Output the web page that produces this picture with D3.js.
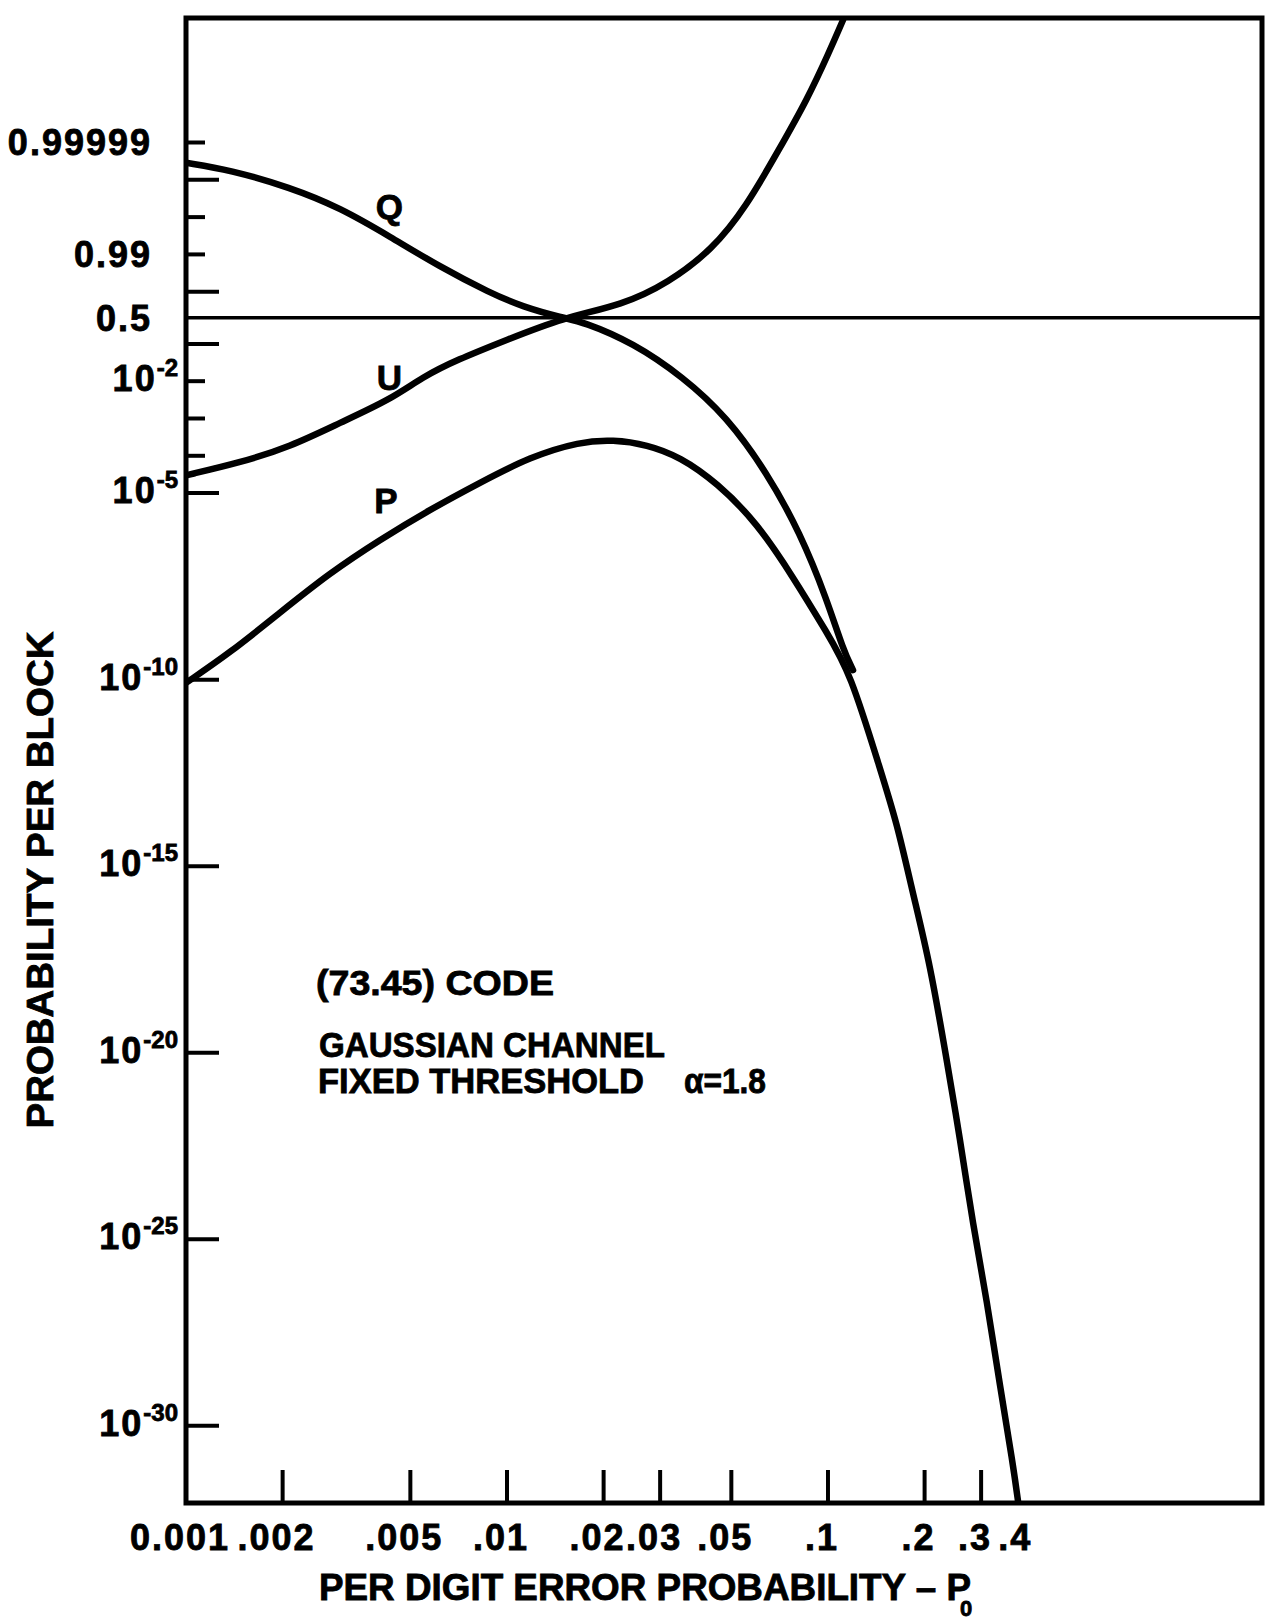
<!DOCTYPE html>
<html>
<head>
<meta charset="utf-8">
<script src="https://cdn.jsdelivr.net/npm/d3@7"></script>
<style>
    body { margin: 0; background: #fff; }
    text { font-family: "Liberation Sans", Arial, sans-serif; font-weight: bold; fill: #000; stroke: #000; stroke-width: 0.8px; }
</style>
</head>
<body>
<div id="chart"></div>
<script>
// (73.45) code, gaussian channel, fixed threshold - block probabilities vs per digit error

// x axis: per digit error probability (log)
const xDomain = [0.001, 2.25];
const xTickValues = [0.001, 0.002, 0.005, 0.01, 0.02, 0.03, 0.05, 0.1, 0.2, 0.3, 0.4];
const xTickLabels = ["0.001", ".002", ".005", ".01", ".02", ".03", ".05", ".1", ".2", ".3", ".4"];

// y axis: probability per block (log below 0.5, log of 1-p above 0.5)
const yDomain = [8.5e-33, 1 - 4.6e-9];
const yTickValues = [0.99999, 0.9999, 0.999, 0.99, 0.9, 0.1, 1e-2, 1e-3, 1e-4, 1e-5, 1e-10, 1e-15, 1e-20, 1e-25, 1e-30];
const yLabelValues = [0.99999, 0.99, 0.5, 1e-2, 1e-5, 1e-10, 1e-15, 1e-20, 1e-25, 1e-30];
const yLabelBase = ["0.99999", "0.99", "0.5", "10", "10", "10", "10", "10", "10", "10"];
const yLabelExp = ["", "", "", "-2", "-5", "-10", "-15", "-20", "-25", "-30"];

// Q curve
const p0Q = [0.001, 0.00137, 0.00211, 0.00302, 0.00433, 0.00618, 0.00885, 0.0112, 0.0149, 0.01726,
    0.0247, 0.0353, 0.0484, 0.0646, 0.0819, 0.0993, 0.1115, 0.1197];
const probQ = [0.999965, 0.999946, 0.99984, 0.99944, 0.99663, 0.9785, 0.893, 0.746, 0.5, 0.391,
    0.107, 0.0131, 1.11e-3, 3.5e-5, 8.6e-7, 1.4e-8, 6.3e-10, 1.8e-10];

// U curve
const p0U = [0.001, 0.00147, 0.00211, 0.00302, 0.00433, 0.00547, 0.00698, 0.01, 0.0149, 0.0230,
    0.0318, 0.0436, 0.0556, 0.0703, 0.0861, 0.1007, 0.1115];
const probU = [3.0e-5, 6.5e-5, 1.74e-4, 7.7e-4, 3.2e-3, 0.0131, 0.0374, 0.129, 0.5, 0.776,
    0.9424, 0.99248, 0.99947, 0.9999843, 0.99999929, 0.999999961, 0.9999999949];

// P curve
const p0P = [0.001, 0.00137, 0.00196, 0.00281, 0.00402, 0.00575, 0.00824, 0.0118, 0.01687, 0.0214,
    0.0273, 0.0346, 0.0451, 0.0601, 0.0778, 0.0993, 0.1172, 0.1452, 0.164, 0.184,
    0.208, 0.235, 0.2576, 0.283, 0.3126, 0.3436, 0.3767, 0.392];
const probP = [8.2e-11, 5.2e-10, 6.2e-9, 7.3e-8, 5.6e-7, 3.6e-6, 1.9e-5, 9.4e-5, 2.4e-4, 2.7e-4,
    2.0e-4, 9.4e-5, 1.9e-5, 1.6e-6, 5.7e-8, 1.8e-9, 1.6e-10, 4.1e-13, 1.45e-14, 1.8e-16,
    2.4e-18, 5.6e-21, 5.2e-23, 2.4e-25, 2.35e-27, 1.1e-29, 1.0e-31, 8e-33];

const curveNames = ["Q", "U", "P"];
const curveLabelP0 = [0.0043, 0.0043, 0.0042];
const curveLabelProb = [0.9995, 0.0131, 6.6e-6];

const width = 1274, height = 1624;
const frame = { left: 186, right: 1262, top: 18, bottom: 1503 };

// symmetric log scale around 0.5
function probToT(p) {
    return p <= 0.5 ? Math.log10(p / 0.5) : Math.log10(0.5 / (1 - p));
}

const x = d3.scaleLog().domain(xDomain).range([frame.left, frame.right]);
const yT = d3.scaleLinear().domain(yDomain.map(probToT)).range([frame.bottom, frame.top]);
const y = p => yT(probToT(p));

const svg = d3.select("#chart")
    .append("svg")
    .attr("width", width)
    .attr("height", height);

svg.append("clipPath").attr("id", "plot-clip")
    .append("rect")
    .attr("x", frame.left).attr("y", frame.top)
    .attr("width", frame.right - frame.left)
    .attr("height", frame.bottom - frame.top);

// frame
svg.append("rect")
    .attr("x", frame.left).attr("y", frame.top)
    .attr("width", frame.right - frame.left)
    .attr("height", frame.bottom - frame.top)
    .attr("fill", "none")
    .attr("stroke", "#000")
    .attr("stroke-width", 5);

// 0.5 reference line
svg.append("line")
    .attr("x1", frame.left).attr("x2", frame.right)
    .attr("y1", y(0.5)).attr("y2", y(0.5))
    .attr("stroke", "#000")
    .attr("stroke-width", 3.5);

// left ticks
const isLong = v => v <= 1e-5 || [0.9999, 0.9, 0.1].includes(v);
svg.selectAll(".ytick")
    .data(yTickValues)
    .enter()
    .append("line")
    .attr("class", "ytick")
    .attr("x1", frame.left)
    .attr("x2", d => frame.left + (isLong(d) ? 33 : 19))
    .attr("y1", d => y(d))
    .attr("y2", d => y(d))
    .attr("stroke", "#000")
    .attr("stroke-width", 4);

// left labels
const yLabels = svg.selectAll(".ylabel")
    .data(yLabelValues)
    .enter()
    .append("text")
    .attr("class", "ylabel")
    .attr("x", (d, i) => yLabelExp[i] ? frame.left - 8 : frame.left - 34)
    .attr("y", (d, i) => y(d) + (yLabelExp[i] ? 10 : 13))
    .attr("text-anchor", "end")
    .style("font-size", "36px")
    .style("letter-spacing", "2px");

yLabels.append("tspan").text((d, i) => yLabelBase[i]);
yLabels.append("tspan")
    .attr("dy", -15)
    .style("font-size", "24px")
    .style("letter-spacing", "0px")
    .text((d, i) => yLabelExp[i]);

// bottom ticks
svg.selectAll(".xtick")
    .data(xTickValues.filter(d => d > xDomain[0] && d < 0.35))
    .enter()
    .append("line")
    .attr("class", "xtick")
    .attr("x1", d => x(d)).attr("x2", d => x(d))
    .attr("y1", frame.bottom)
    .attr("y2", frame.bottom - 33)
    .attr("stroke", "#000")
    .attr("stroke-width", 4);

svg.selectAll(".xlabel")
    .data(xTickValues)
    .enter()
    .append("text")
    .attr("class", "xlabel")
    .attr("x", d => x(d) - 6)
    .attr("y", frame.bottom + 47)
    .attr("text-anchor", "middle")
    .style("font-size", "36px")
    .style("letter-spacing", "2px")
    .text((d, i) => xTickLabels[i]);

// curves
const line = d3.line()
    .x(d => x(d[0]))
    .y(d => y(d[1]))
    .curve(d3.curveBasis);

const series = [
    d3.zip(p0Q, probQ),
    d3.zip(p0U, probU),
    d3.zip(p0P, probP)
];

svg.append("g")
    .attr("clip-path", "url(#plot-clip)")
    .selectAll(".curve")
    .data(series)
    .enter()
    .append("path")
    .attr("class", "curve")
    .attr("d", line)
    .attr("fill", "none")
    .attr("stroke", "#000")
    .attr("stroke-width", 6.5)
    .attr("stroke-linecap", "round");

// curve labels
svg.selectAll(".curve-label")
    .data(curveNames)
    .enter()
    .append("text")
    .attr("class", "curve-label")
    .attr("x", (d, i) => x(curveLabelP0[i]))
    .attr("y", (d, i) => y(curveLabelProb[i]) + 13)
    .attr("text-anchor", "middle")
    .style("font-size", "35px")
    .text(d => d);

// annotation
const note = svg.append("g");
note.append("text").attr("x", 316).attr("y", 995)
    .attr("textLength", 238).attr("lengthAdjust", "spacingAndGlyphs")
    .style("font-size", "35px").text("(73.45) CODE");
note.append("text").attr("x", 319).attr("y", 1057)
    .attr("textLength", 346).attr("lengthAdjust", "spacingAndGlyphs")
    .style("font-size", "35px").text("GAUSSIAN CHANNEL");
note.append("text").attr("x", 318).attr("y", 1093)
    .attr("textLength", 326).attr("lengthAdjust", "spacingAndGlyphs")
    .style("font-size", "35px").text("FIXED THRESHOLD");
note.append("text").attr("x", 684).attr("y", 1093)
    .attr("textLength", 82).attr("lengthAdjust", "spacingAndGlyphs")
    .style("font-size", "35px").text("α=1.8");

// axis titles
svg.append("text")
    .attr("x", 319)
    .attr("y", 1600)
    .attr("textLength", 652)
    .attr("lengthAdjust", "spacingAndGlyphs")
    .style("font-size", "36px")
    .text("PER DIGIT ERROR PROBABILITY – P");
svg.append("text")
    .attr("x", 960)
    .attr("y", 1616)
    .style("font-size", "22px")
    .text("0");

svg.append("text")
    .attr("transform", "translate(53,880) rotate(-90)")
    .attr("text-anchor", "middle")
    .attr("textLength", 497)
    .attr("lengthAdjust", "spacingAndGlyphs")
    .style("font-size", "37px")
    .text("PROBABILITY PER BLOCK");
</script>
</body>
</html>
